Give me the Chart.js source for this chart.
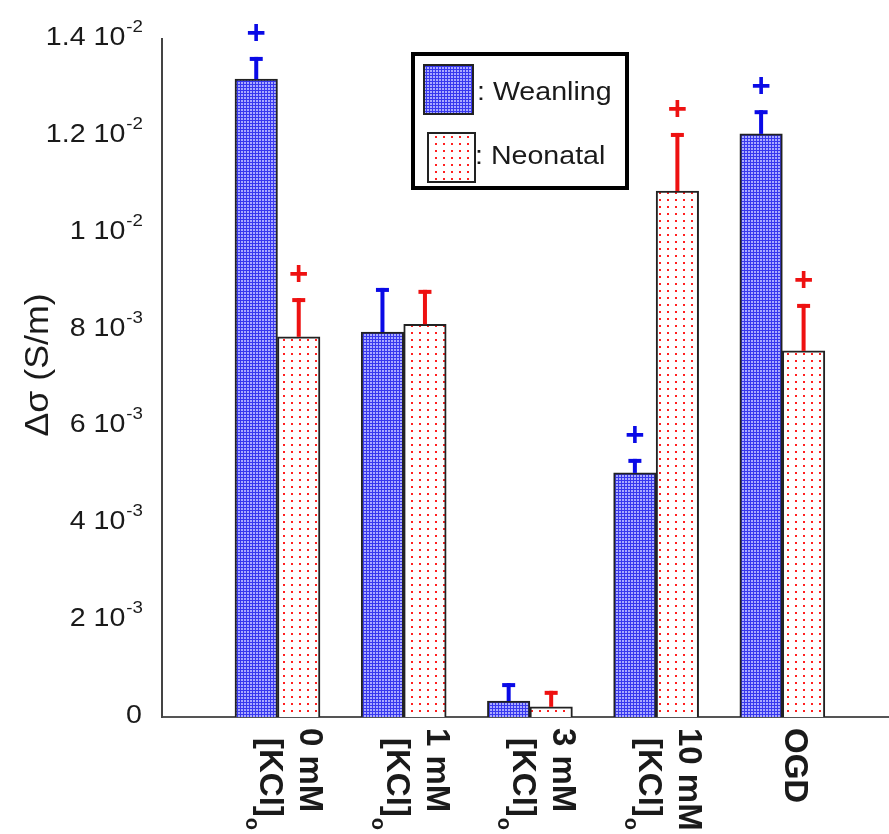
<!DOCTYPE html>
<html>
<head>
<meta charset="utf-8">
<script src="https://cdn.jsdelivr.net/npm/chart.js@4.4.1/dist/chart.umd.min.js"></script>
<style>
    html, body { margin: 0; padding: 0; background: #ffffff; }
    #wrap { position: relative; width: 889px; height: 834px; }
</style>
</head>
<body>
<div id="wrap"><canvas id="chart"></canvas></div>
<script>
// Category labels, one entry per line (drawn rotated); "_" starts a subscript
const categories = [
    ["0 mM", "[KCl]_o"],
    ["1 mM", "[KCl]_o"],
    ["3 mM", "[KCl]_o"],
    ["10 mM", "[KCl]_o"],
    ["OGD"],
];
const categoryX = [0, 1, 2, 3, 4];

// Conductivity change (S/m)
const weanling = [0.01317, 0.00795, 0.00033, 0.00504, 0.01204];
const weanlingErr = [0.00046, 0.00091, 0.00037, 0.00029, 0.00049];
const weanlingSig = [true, false, false, true, true];

const neonatal = [0.00785, 0.00811, 0.00021, 0.01086, 0.00756];
const neonatalErr = [0.0008, 0.00071, 0.00033, 0.0012, 0.00097];
const neonatalSig = [true, false, false, true, true];

// y ticks, written as "mantissa 10^exponent"
const yTickValues = [0, 0.002, 0.004, 0.006, 0.008, 0.01, 0.012, 0.014];
const yTickMantissa = ["0", "2", "4", "6", "8", "1", "1.2", "1.4"];
const yTickExponent = ["", "-3", "-3", "-3", "-3", "-2", "-2", "-2"];

const seriesNames = ["Weanling", "Neonatal"];
const yTitle = "\u0394\u03c3 (S/m)";

const BLUE = "#0a0ae6";
const RED = "#ee1111";
const FONT = "'Liberation Sans', Arial, Helvetica, sans-serif";
const TEXT_SX = 1.1; // the source text is a little wide

// fill patterns
function makePattern(w, h, draw) {
    const c = document.createElement("canvas");
    c.width = w;
    c.height = h;
    draw(c.getContext("2d"));
    return document.getElementById("chart").getContext("2d").createPattern(c, "repeat");
}
const bluePattern = makePattern(3, 3, (g) => {
    g.fillStyle = "#3838ee";
    g.fillRect(0, 0, 3, 3);
    g.fillStyle = "#aaaaff";
    g.fillRect(1, 1, 2, 2);
});
const dotPattern = makePattern(8, 7, (g) => {
    g.fillStyle = "#ffffff";
    g.fillRect(0, 0, 8, 7);
    g.fillStyle = "#ff2020";
    g.fillRect(3, 3, 2, 2);
});

function wideText(ctx, text, x, y, align) {
    ctx.save();
    ctx.translate(x, y);
    ctx.scale(TEXT_SX, 1);
    ctx.textAlign = align;
    ctx.fillText(text, 0, 0);
    ctx.restore();
    return ctx.measureText(text).width * TEXT_SX;
}

const overlay = {
    id: "overlay",
    afterDatasetsDraw(chart) {
        const ctx = chart.ctx;
        const yScale = chart.scales.y;
        const sets = [
            [weanling, weanlingErr, weanlingSig, BLUE],
            [neonatal, neonatalErr, neonatalSig, RED],
        ];
        ctx.save();
        sets.forEach(([vals, errs, sig, color], d) => {
            const meta = chart.getDatasetMeta(d);
            meta.data.forEach((bar, i) => {
                const top = yScale.getPixelForValue(vals[i]);
                const capY = yScale.getPixelForValue(vals[i] + errs[i]);
                ctx.fillStyle = color;
                ctx.fillRect(bar.x - 2, capY, 4, top - capY);
                ctx.fillRect(bar.x - 6.5, capY, 13, 4);
                if (sig[i]) {
                    ctx.font = "bold 33px " + FONT;
                    ctx.textAlign = "center";
                    ctx.textBaseline = "middle";
                    ctx.fillText("+", bar.x, capY - 22);
                }
            });
        });
        ctx.restore();
    },
    afterDraw(chart) {
        const ctx = chart.ctx;
        const xScale = chart.scales.x;
        const yScale = chart.scales.y;
        ctx.save();
        ctx.fillStyle = "#1a1a1a";
        ctx.textBaseline = "alphabetic";

        // y tick labels
        yTickValues.forEach((v, i) => {
            const py = yScale.getPixelForValue(v) + 6;
            let right = 143;
            if (yTickExponent[i]) {
                ctx.font = "17px " + FONT;
                const w = wideText(ctx, yTickExponent[i], right, py - 13, "right");
                ctx.font = "26px " + FONT;
                wideText(ctx, yTickMantissa[i] + " 10", right - w - 1, py, "right");
            } else {
                ctx.font = "26px " + FONT;
                wideText(ctx, yTickMantissa[i], right - 1, py, "right");
            }
        });

        // y title
        ctx.save();
        ctx.translate(39, 365);
        ctx.rotate(-Math.PI / 2);
        ctx.scale(1.05, 1);
        ctx.font = "34px " + FONT;
        ctx.textAlign = "center";
        ctx.textBaseline = "middle";
        ctx.fillText(yTitle, 0, 0);
        ctx.restore();

        // category labels, rotated clockwise
        categories.forEach((lines, i) => {
            const cx = xScale.getPixelForValue(categoryX[i]) + 12;
            lines.forEach((line, j) => {
                const lx = cx + (lines.length - 1) * 20 - j * 40;
                ctx.save();
                ctx.translate(lx, 728 + (j ? 10 : 0));
                ctx.rotate(Math.PI / 2);
                ctx.textAlign = "left";
                ctx.textBaseline = "middle";
                const [main, sub] = line.split("_");
                ctx.font = "bold 33px " + FONT;
                ctx.fillText(main, 0, 0);
                if (sub) {
                    const w = ctx.measureText(main).width;
                    ctx.font = "bold 20px " + FONT;
                    ctx.fillText(sub, w + 1, 18);
                }
                ctx.restore();
            });
        });

        // legend
        ctx.lineWidth = 4;
        ctx.strokeStyle = "#000000";
        ctx.strokeRect(413, 54, 214, 134);
        ctx.lineWidth = 2;
        ctx.strokeStyle = "#222222";
        ctx.fillStyle = bluePattern;
        ctx.fillRect(424, 65, 49, 49);
        ctx.strokeRect(424, 65, 49, 49);
        ctx.fillStyle = dotPattern;
        ctx.fillRect(428, 133, 47, 49);
        ctx.strokeRect(428, 133, 47, 49);
        ctx.fillStyle = "#1a1a1a";
        ctx.font = "26px " + FONT;
        wideText(ctx, ": " + seriesNames[0], 477, 100, "left");
        wideText(ctx, ": " + seriesNames[1], 475, 164, "left");
        ctx.restore();
    },
};

new Chart(document.getElementById("chart"), {
    type: "bar",
    data: {
        datasets: [
            {
                label: seriesNames[0],
                data: weanling.map((v, i) => ({ x: categoryX[i], y: v })),
                backgroundColor: bluePattern,
                borderColor: "#222222",
                borderWidth: 2,
                borderSkipped: "bottom",
            },
            {
                label: seriesNames[1],
                data: neonatal.map((v, i) => ({ x: categoryX[i], y: v })),
                backgroundColor: dotPattern,
                borderColor: "#222222",
                borderWidth: 2,
                borderSkipped: "bottom",
            },
        ],
    },
    options: {
        responsive: true,
        maintainAspectRatio: false,
        animation: false,
        barThickness: 42.5,
        layout: {
            padding: { left: 162, top: 39, right: 0, bottom: 117 },
        },
        plugins: {
            legend: { display: false },
            tooltip: { enabled: false },
        },
        scales: {
            x: {
                type: "linear",
                offset: false,
                min: -0.915,
                max: 4.845,
                afterBuildTicks: (s) => {
                    s.ticks = categoryX.map((v) => ({ value: v }));
                },
                afterFit: (s) => {
                    s.height = 0;
                },
                ticks: { display: false },
                grid: { display: false, drawTicks: false, offset: false },
                border: { display: true, color: "#555555", width: 2 },
            },
            y: {
                min: 0,
                max: 0.014,
                afterFit: (s) => {
                    s.width = 0;
                },
                ticks: { display: false },
                grid: { display: false, drawTicks: false },
                border: { display: true, color: "#444444", width: 2 },
            },
        },
    },
    plugins: [overlay],
});
</script>
</body>
</html>
